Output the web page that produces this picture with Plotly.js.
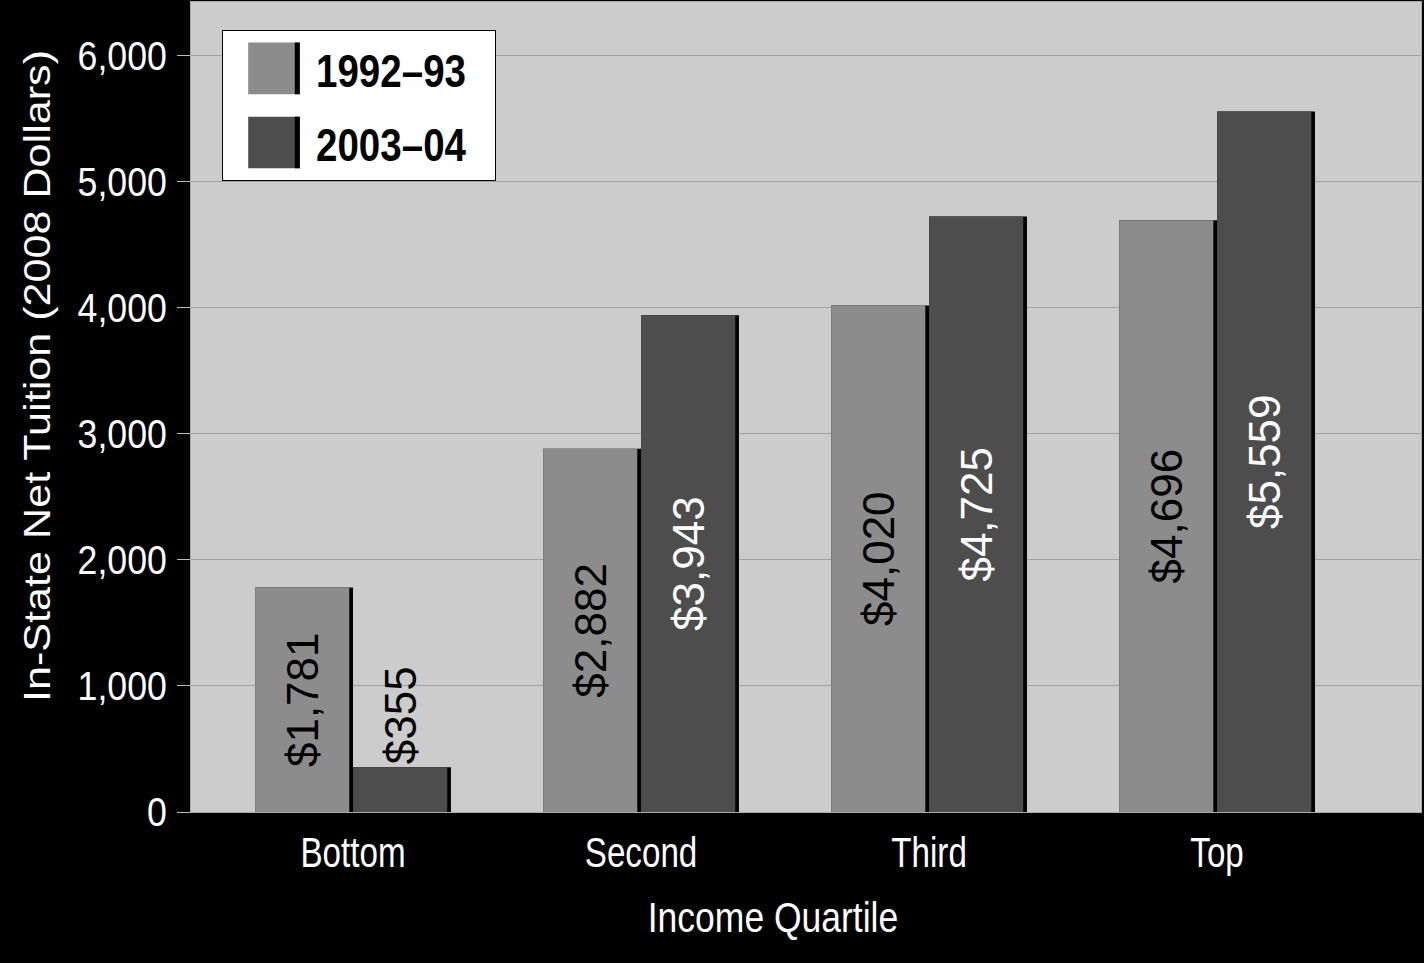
<!DOCTYPE html>
<html>
<head>
<meta charset="utf-8">
<script src="https://cdn.plot.ly/plotly-3.0.1.min.js"></script>
<style>
  html, body { margin: 0; padding: 0; background: #000; }
  #chart { width: 1424px; height: 963px; }
</style>
</head>
<body>
<div id="chart"></div>
<script>
// ---- data ----
const categories = ["Bottom", "Second", "Third", "Top"];
const seriesNames = ["1992\u201393", "2003\u201304"];
const values1992 = [1781, 2882, 4020, 4696];
const values2003 = [355, 3943, 4725, 5559];
const labels1992 = ["$1,781", "$2,882", "$4,020", "$4,696"];
const labels2003 = ["$355", "$3,943", "$4,725", "$5,559"];

// ---- styling ----
const REG = "'Liberation Sans', Arial, sans-serif";
const LIGHT = "#8c8c8c";
const DARK = "#4d4d4d";
const FULLW = 0.340;
const FILLW = 0.327;

function edgeTrace(vals, offset) {
  return {
    type: "bar", x: categories, y: vals,
    width: FULLW, offset: offset,
    marker: { color: "#000000", line: { width: 0 } },
    showlegend: false, hoverinfo: "skip"
  };
}
function fillTrace(name, vals, labels, offset, color, textColor, positions, group) {
  return {
    type: "bar", name: name, x: categories, y: vals,
    width: FILLW, offset: offset, legendgroup: group,
    marker: { color: color, line: { width: 0 } },
    text: labels, textposition: positions, insidetextanchor: "middle",
    textangle: -90, constraintext: "none", cliponaxis: false,
    textfont: { family: REG, size: 44, color: textColor },
    insidetextfont: { family: REG, size: 44, color: textColor },
    outsidetextfont: { family: REG, size: 44, color: "#000000" }
  };
}

const data = [
  edgeTrace(values1992, -FULLW),
  edgeTrace(values2003, 0),
  fillTrace(seriesNames[0], values1992, labels1992, -FULLW, LIGHT, "#000000",
            ["inside", "inside", "inside", "inside"], "a"),
  fillTrace(seriesNames[1], values2003, labels2003, 0, DARK, "#ffffff",
            ["outside", "inside", "inside", "inside"], "b")
];

const layout = {
  width: 1424, height: 963,
  paper_bgcolor: "#000000",
  plot_bgcolor: "#cccccc",
  margin: { l: 191, r: 3, t: 2, b: 151, pad: 0 },
  barmode: "overlay",
  showlegend: true,
  legend: {
    x: 0.0252, y: 0.965, xanchor: "left", yanchor: "top",
    bgcolor: "#ffffff", bordercolor: "#000000", borderwidth: 1,
    font: { family: REG, size: 47, color: "#000000", weight: "bold" },
    itemwidth: 83, traceorder: "grouped", tracegroupgap: 10
  },
  xaxis: {
    type: "category",
    range: [-0.5625, 3.708],
    showgrid: false,
    showline: true, linecolor: "#aaaaaa", linewidth: 1, mirror: true,
    ticks: "", ticklabelstandoff: 4,
    tickfont: { family: REG, size: 42, color: "#ffffff" },
    title: { text: "Income Quartile", standoff: 27,
             font: { family: REG, size: 42, color: "#ffffff" } },
    zeroline: false, fixedrange: true
  },
  yaxis: {
    range: [0, 6428],
    tickvals: [0, 1000, 2000, 3000, 4000, 5000, 6000],
    tickformat: ",d",
    showgrid: true, gridcolor: "#a0a0a0", gridwidth: 1,
    showline: true, linecolor: "#aaaaaa", linewidth: 1, mirror: true,
    ticks: "outside", ticklen: 13, tickcolor: "#bbbbbb", tickwidth: 1,
    ticklabelstandoff: 2,
    tickfont: { family: REG, size: 41, color: "#ffffff" },
    title: { text: "In-State Net Tuition (2008 Dollars)", standoff: 12,
             font: { family: REG, size: 37, color: "#ffffff" } },
    zeroline: false, fixedrange: true
  }
};

// horizontally condense / stretch text to mimic the reference's narrow typeface
function squeeze(sel, s, anchor, dx, dy) {
  document.querySelectorAll(sel).forEach(function (el) {
    const b = el.getBBox();
    const ax = anchor === "start" ? b.x : anchor === "end" ? b.x + b.width : b.x + b.width / 2;
    const t = el.getAttribute("transform") || "";
    el.setAttribute("transform",
      t + " translate(" + (ax + (dx || 0)) + "," + (dy || 0) + ") scale(" + s + ",1) translate(" + (-ax) + ",0)");
  });
}

Plotly.newPlot("chart", data, layout, { displayModeBar: false, staticPlot: true }).then(function () {
  squeeze(".xtick text", 0.79, "middle");
  squeeze(".ytick text", 0.87, "end");
  squeeze("text.xtitle", 0.845, "middle", -33, 0);
  squeeze("text.ytitle", 1.166, "middle", 31, 10);
  squeeze(".legend text.legendtext", 0.82, "start");

  // enlarge legend swatches and give them the dark right edge seen on the bars
  document.querySelectorAll(".legend .legendpoints path").forEach(function (p) {
    const t = p.getAttribute("transform") || "";
    p.setAttribute("transform", t + " translate(4.5,0) scale(4.3)");
    const edge = p.cloneNode(true);
    edge.setAttribute("transform", t + " translate(" + (4.5 + 25.8 - 2.5) + ",0) scale(0.42,4.3)");
    edge.style.fill = "#000000";
    edge.style.stroke = "none";
    p.parentNode.appendChild(edge);
  });
  // trim legend box to the condensed text
  document.querySelectorAll(".legend rect.bg").forEach(function (r) {
    const w = parseFloat(r.getAttribute("width"));
    if (!isNaN(w)) r.setAttribute("width", w - 9);
  });
});
</script>
</body>
</html>
